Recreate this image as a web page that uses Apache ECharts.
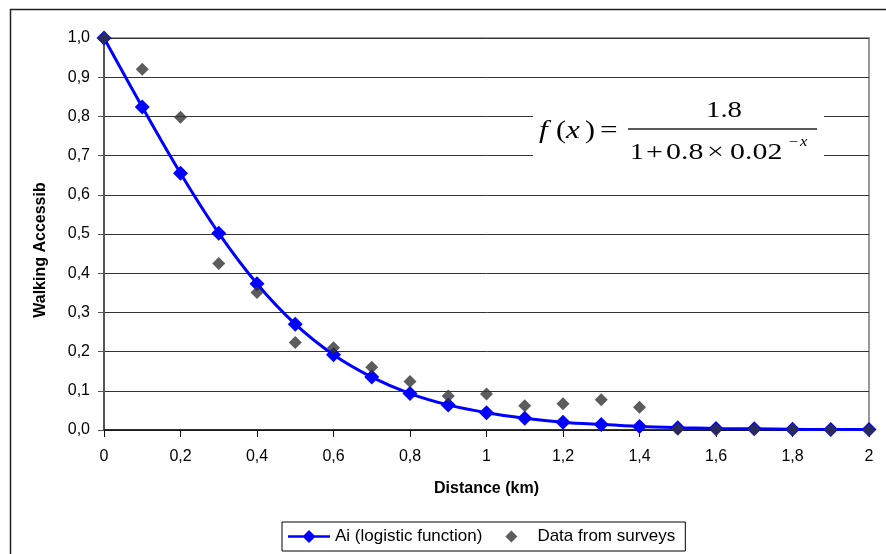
<!DOCTYPE html>
<html>
<head>
<meta charset="utf-8">
<script src="https://cdn.jsdelivr.net/npm/echarts@6/dist/echarts.min.js"></script>
<style>
html,body{margin:0;padding:0;background:#fff;}
#chart{width:886px;height:554px;}
</style>
</head>
<body>
<div id="chart"></div>
<script>
// Distance (km)
var distances = [0, 0.1, 0.2, 0.3, 0.4, 0.5, 0.6, 0.7, 0.8, 0.9, 1.0, 1.1, 1.2, 1.3, 1.4, 1.5, 1.6, 1.7, 1.8, 1.9, 2.0];
// Ai (logistic function)
var logisticValues = [1.000, 0.824, 0.655, 0.502, 0.373, 0.270, 0.192, 0.135, 0.093, 0.064, 0.044, 0.030, 0.020, 0.014, 0.009, 0.006, 0.004, 0.003, 0.002, 0.001, 0.001];
// Data from surveys
var surveyValues = [1.000, 0.920, 0.798, 0.425, 0.351, 0.223, 0.210, 0.160, 0.124, 0.087, 0.092, 0.062, 0.067, 0.077, 0.058, 0.002, 0.002, 0.002, 0.002, 0.000, 0.000];
var seriesNames = ['Ai (logistic function)', 'Data from surveys'];
var xAxisTitle = 'Distance (km)';
var yAxisTitle = 'Walking Accessib';

var lineData = distances.map(function (d, i) { return [d, logisticValues[i]]; });
var surveyData = distances.map(function (d, i) { return [d, surveyValues[i]]; });

var chart = echarts.init(document.getElementById('chart'), null, {renderer: 'canvas'});
var serif = '"Liberation Serif", "Times New Roman", serif';
var sans = '"Liberation Sans", Arial, sans-serif';

// legend icons drawn in a 42 x 13 box without stretching the diamonds
var diamondIcon = 'path://M-21,0L-21,0.01L-20.99,0Z M21,0L21,0.01L20.99,0Z M0,-6L6,0L0,6L-6,0Z';
var lineDiamondIcon = 'path://M-21,-6.5L-21,-6.49L-20.99,-6.5Z M-21,6.5L-21,6.49L-20.99,6.5Z M-21,-1.3L21,-1.3L21,1.3L-21,1.3Z M0,-6.5L6.5,0L0,6.5L-6.5,0Z';

function piece(txt, left, y, size, italic, sx) {
  return {
    type: 'text', x: left, y: y, scaleX: sx || 1.25, z: 20,
    style: {
      text: txt, fill: '#000',
      font: (italic ? 'italic ' : '') + size + 'px ' + serif,
      textAlign: 'left', textVerticalAlign: 'middle'
    }
  };
}

var option = {
  backgroundColor: '#fff',
  animation: false,
  grid: {
    left: 104, right: 17, top: 38, bottom: 124,
    show: true, borderColor: '#999', borderWidth: 2, backgroundColor: 'transparent'
  },
  xAxis: {
    type: 'value', min: 0, max: 2, interval: 0.2,
    name: xAxisTitle, nameLocation: 'middle', nameGap: 51,
    nameTextStyle: {fontFamily: sans, fontSize: 16, fontWeight: 'bold', color: '#000'},
    axisLine: {show: true, onZero: false, lineStyle: {color: '#111', width: 1.5}},
    axisTick: {show: true, inside: false, length: 7, lineStyle: {color: '#111'}},
    axisLabel: {
      margin: 19, fontFamily: sans, fontSize: 16, color: '#000',
      formatter: function (v) { return String(+v.toFixed(1)).replace('.', ','); }
    },
    splitLine: {show: false}
  },
  yAxis: {
    type: 'value', min: 0, max: 1, interval: 0.1,
    axisLine: {show: true, lineStyle: {color: '#555', width: 2}},
    axisTick: {show: true, inside: false, length: 6, lineStyle: {color: '#555'}},
    axisLabel: {
      margin: 14, fontFamily: sans, fontSize: 16, color: '#000',
      formatter: function (v) { return v.toFixed(1).replace('.', ','); }
    },
    splitLine: {show: true, lineStyle: {color: '#333', width: 1}}
  },
  legend: {
    left: 282, top: 522,
    orient: 'horizontal',
    padding: [6, 10, 6, 6],
    itemGap: 8,
    itemWidth: 42, itemHeight: 13,
    borderColor: '#000', borderWidth: 1, borderRadius: 0,
    backgroundColor: '#fff',
    textStyle: {fontFamily: sans, fontSize: 17, color: '#000'},
    data: [
      {name: seriesNames[0], icon: lineDiamondIcon},
      {name: seriesNames[1], icon: diamondIcon}
    ]
  },
  series: [
    {
      name: seriesNames[0], type: 'line', data: lineData,
      smooth: 0.35, symbol: 'diamond', symbolSize: 15, showAllSymbol: true,
      lineStyle: {color: '#0000ff', width: 3},
      itemStyle: {color: '#0000ff'},
      z: 3
    },
    {
      name: seriesNames[1], type: 'scatter', data: surveyData,
      symbol: 'diamond', symbolSize: 13,
      itemStyle: {color: '#333333'},
      z: 4
    }
  ],
  graphic: [
    // outer chart border
    {type: 'rect', shape: {x: 10.5, y: 9.5, width: 1000, height: 1000}, z: 0,
     style: {fill: 'transparent', stroke: '#222', lineWidth: 1.5}},
    // y axis title
    {type: 'text', x: 41, y: 250, rotation: Math.PI / 2, z: 20,
     style: {text: yAxisTitle, font: 'bold 16px ' + sans, fill: '#000',
             textAlign: 'center', textVerticalAlign: 'middle'}},
    // formula box
    {type: 'rect', shape: {x: 533, y: 96, width: 291, height: 86}, z: 15,
     style: {fill: '#fff', stroke: null}},
    piece('f', 539, 131, 25, true, 1.25),
    piece('(', 556, 131, 25, false, 1.2),
    piece('x', 566, 131, 25, true, 1.25),
    piece(')', 585, 131, 25, false, 1.2),
    piece('=', 600, 131, 24, false, 1.3),
    {type: 'line', shape: {x1: 628, y1: 129, x2: 817, y2: 129}, z: 20,
     style: {stroke: '#222', lineWidth: 1.5}},
    piece('1.8', 706, 111, 23, false, 1.25),
    piece('1', 630, 153, 23, false, 1.2),
    piece('+', 646, 153, 23, false, 1.3),
    piece('0.8', 666, 153, 23, false, 1.3),
    piece('\u00d7', 707, 153, 23, false, 1.3),
    piece('0.02', 730, 153, 23, false, 1.3),
    piece('\u2212', 789, 142, 14, false, 1.2),
    piece('x', 800, 142, 14, true, 1.2)
  ]
};
chart.setOption(option);
</script>
</body>
</html>
